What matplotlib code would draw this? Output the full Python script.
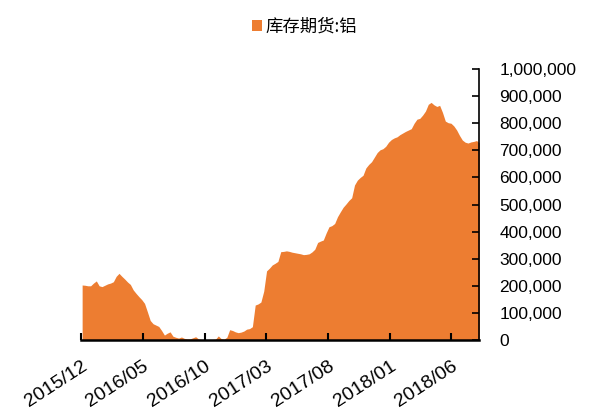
import numpy as np
import pandas as pd
import matplotlib
matplotlib.use('Agg')
import matplotlib.pyplot as plt
import matplotlib.dates as mdates
from matplotlib.patches import Patch
from matplotlib.ticker import FuncFormatter, MultipleLocator

plt.rcParams['font.family'] = ['Liberation Sans', 'Noto Sans CJK SC', 'DejaVu Sans']

# 上期所铝库存(周度, 吨)
series_name = '库存期货:铝'
start_date = '2015-12-04'
stock_k = [
    203, 202, 200, 200, 210, 218, 200, 197, 202, 207,
    210, 215, 235, 246, 235, 225, 214, 205, 185, 172,
    160, 149, 135, 104, 72, 60, 55, 50, 35, 18,
    25, 30, 14, 10, 7, 11, 6, 4, 4, 8,
    12, 4, 2, 2, 1, 1, 2, 3, 15, 5,
    3, 10, 38, 35, 30, 27, 29, 33, 40, 42,
    49, 129, 133, 140, 180, 255, 265, 277, 283, 290,
    326, 327, 329, 327, 324, 322, 320, 318, 315, 316,
    318, 325, 335, 360, 365, 369, 395, 418, 422, 430,
    455, 473, 490, 502, 515, 525, 572, 590, 600, 608,
    635, 648, 658, 675, 692, 702, 706, 715, 730, 740,
    746, 750, 758, 764, 770, 775, 780, 800, 815, 818,
    830, 845, 870, 877, 868, 862, 866, 840, 808, 802,
    800, 790, 775, 755, 738, 730, 727, 731, 733, 736,
    728,
]
tick_dates = ['2015-12-01', '2016-05-01', '2016-10-01', '2017-03-01',
              '2017-08-01', '2018-01-01', '2018-06-01']

dates = pd.date_range(start_date, periods=len(stock_k), freq='7D')
values = np.array(stock_k) * 1000

fig = plt.figure(figsize=(6.13, 4.08), dpi=100)
ax = fig.add_axes([0.132, 0.1667, 0.650, 0.664])

ax.fill_between(dates, values, 0, color='#ED7D31', linewidth=0)

ax.set_xlim(pd.Timestamp(tick_dates[0]), dates[-1])
ax.set_ylim(0, 1000000)

ax.yaxis.tick_right()
ax.yaxis.set_major_locator(MultipleLocator(100000))
ax.yaxis.set_major_formatter(FuncFormatter(lambda v, p: f'{int(v):,}'))
ax.set_xticks(pd.to_datetime(tick_dates))
ax.xaxis.set_major_formatter(mdates.DateFormatter('%Y/%m'))

for s in ['top', 'left']:
    ax.spines[s].set_visible(False)
ax.spines['bottom'].set_linewidth(1.8)
ax.spines['right'].set_linewidth(1.2)

ax.tick_params(axis='x', direction='in', length=5, width=1.5,
               labelsize=14, pad=13)
ax.tick_params(axis='y', direction='in', length=5, width=1.2,
               labelsize=12.5, pad=14.5, right=True, left=False)
for lab in ax.get_xticklabels():
    lab.set_rotation(33)
    lab.set_ha('right')
    lab.set_rotation_mode('anchor')

handle = Patch(facecolor='#ED7D31', edgecolor='none')
fig.legend([handle], [series_name], loc='center', bbox_to_anchor=(0.497, 0.934),
           frameon=False, handlelength=0.6, handleheight=0.6, handletextpad=0.2,
           prop={'family': ['Noto Sans CJK SC', 'DejaVu Sans'], 'size': 12.5})

fig.savefig('out.png', dpi=100)
